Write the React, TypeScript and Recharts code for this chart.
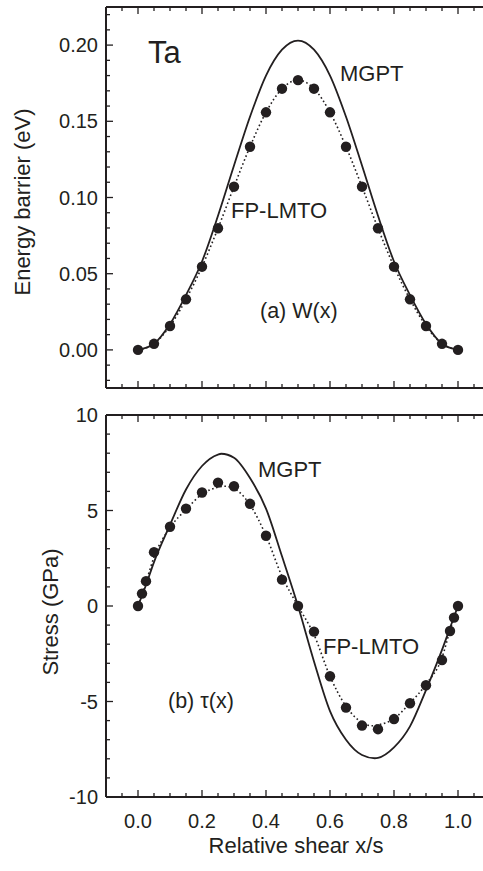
import React from 'react';
import { ComposedChart, Line, Scatter, XAxis, YAxis, ReferenceLine } from 'recharts';

// ---------- data ----------
const topLmtoX = [0, 0.05, 0.1, 0.15, 0.2, 0.25, 0.3, 0.35, 0.4, 0.45, 0.5, 0.55, 0.6, 0.65, 0.7, 0.75, 0.8, 0.85, 0.9, 0.95, 1.0];
const topLmtoW = [0, 0.004, 0.0157, 0.0332, 0.0546, 0.0798, 0.1071, 0.1333, 0.1559, 0.1714, 0.177, 0.1714, 0.1559, 0.1333, 0.1071, 0.0798, 0.0546, 0.0332, 0.0157, 0.004, 0];

const topMgptX = [0, 0.05, 0.1, 0.15, 0.2, 0.25, 0.3, 0.35, 0.4, 0.45, 0.5, 0.55, 0.6, 0.65, 0.7, 0.75, 0.8, 0.85, 0.9, 0.95, 1.0];
const topMgptW = [0, 0.004, 0.017, 0.036, 0.058, 0.088, 0.121, 0.153, 0.18, 0.197, 0.203, 0.197, 0.18, 0.153, 0.121, 0.088, 0.058, 0.036, 0.017, 0.004, 0];

const botLmtoX = [0, 0.0125, 0.025, 0.05, 0.1, 0.15, 0.2, 0.25, 0.3, 0.35, 0.4, 0.45, 0.5, 0.55, 0.6, 0.65, 0.7, 0.75, 0.8, 0.85, 0.9, 0.95, 0.975, 0.9875, 1.0];
const botLmtoTau = [0, 0.65, 1.3, 2.82, 4.15, 5.1, 5.94, 6.46, 6.27, 5.35, 3.68, 1.38, 0, -1.34, -3.68, -5.32, -6.26, -6.45, -5.92, -5.09, -4.15, -2.83, -1.31, -0.61, 0];

const botFitX = [0, 0.0125, 0.025, 0.05, 0.1, 0.15, 0.2, 0.25, 0.27, 0.3, 0.35, 0.4, 0.45, 0.5, 0.55, 0.6, 0.65, 0.7, 0.73, 0.75, 0.8, 0.85, 0.9, 0.95, 0.975, 0.9875, 1.0];
const botFitTau = [0, 0.62, 1.25, 2.55, 4.1, 5.05, 5.85, 6.22, 6.27, 6.15, 5.3, 3.68, 1.55, 0, -1.5, -3.68, -5.25, -6.1, -6.27, -6.22, -5.9, -5.08, -4.1, -2.7, -1.28, -0.62, 0];

const botMgptX = [0, 0.025, 0.05, 0.1, 0.15, 0.2, 0.25, 0.26, 0.3, 0.35, 0.4, 0.45, 0.5, 0.55, 0.6, 0.65, 0.7, 0.74, 0.75, 0.8, 0.85, 0.9, 0.95, 0.975, 1.0];
const botMgptTau = [0, 1.1, 2.3, 4.25, 6.1, 7.33, 7.93, 7.97, 7.76, 6.7, 5.1, 2.6, 0, -2.9, -5.5, -7.0, -7.8, -7.97, -7.95, -7.4, -6.3, -4.4, -2.3, -1.15, 0];

// ---------- ticks ----------
const xMajorTicks = [0, 0.2, 0.4, 0.6, 0.8, 1.0];
const xTickLabels = ['0.0', '0.2', '0.4', '0.6', '0.8', '1.0'];
const xMinorTicks = [-0.05, 0.05, 0.1, 0.15, 0.25, 0.3, 0.35, 0.45, 0.5, 0.55, 0.65, 0.7, 0.75, 0.85, 0.9, 0.95, 1.05];

const yTopMajorTicks = [0, 0.05, 0.1, 0.15, 0.2];
const yTopTickLabels = ['0.00', '0.05', '0.10', '0.15', '0.20'];
const yTopMinorTicks = [-0.02, -0.01, 0.01, 0.02, 0.03, 0.04, 0.06, 0.07, 0.08, 0.09, 0.11, 0.12, 0.13, 0.14, 0.16, 0.17, 0.18, 0.19, 0.21, 0.22];

const yBotMajorTicks = [-10, -5, 0, 5, 10];
const yBotTickLabels = ['-10', '-5', '0', '5', '10'];
const yBotMinorTicks = [-9, -8, -7, -6, -4, -3, -2, -1, 1, 2, 3, 4, 6, 7, 8, 9];

const xDomain = [-0.1, 1.1];
const yTopDomain = [-0.025, 0.225];
const yBotDomain = [-10, 10];

const toPts = (xs: number[], ys: number[]) => xs.map((x, i) => ({ x, y: ys[i] }));

const topLmto = toPts(topLmtoX, topLmtoW);
const topMgpt = toPts(topMgptX, topMgptW);
const botLmto = toPts(botLmtoX, botLmtoTau);
const botFit = toPts(botFitX, botFitTau);
const botMgpt = toPts(botMgptX, botMgptTau);

// ---------- style ----------
const FONT = '"Liberation Sans", Arial, Helvetica, sans-serif';
const INK = '#231f20';
const CHART_W = 500;
const MAJOR_LEN = 7;
const MINOR_LEN = 4;

const findIdx = (arr: number[], v: number) => arr.findIndex((t) => Math.abs(t - v) < 1e-6);

function makeXTick(plotH: number, showLabels: boolean) {
  return (props: any) => {
    const { x, y, payload } = props;
    const idx = findIdx(xMajorTicks, payload.value);
    const len = idx >= 0 ? MAJOR_LEN : MINOR_LEN;
    return (
      <g>
        <line x1={x} y1={y} x2={x} y2={y - len} stroke={INK} strokeWidth={1.3} />
        <line x1={x} y1={y - plotH} x2={x} y2={y - plotH + len} stroke={INK} strokeWidth={1.3} />
        {showLabels && idx >= 0 && (
          <text x={x} y={y + 31} textAnchor="middle" fontFamily={FONT} fontSize={20} fill={INK}>
            {xTickLabels[idx]}
          </text>
        )}
      </g>
    );
  };
}

function makeYTick(plotW: number, majors: number[], labels: string[]) {
  return (props: any) => {
    const { x, y, payload } = props;
    const idx = findIdx(majors, payload.value);
    const len = idx >= 0 ? MAJOR_LEN : MINOR_LEN;
    return (
      <g>
        <line x1={x} y1={y} x2={x + len} y2={y} stroke={INK} strokeWidth={1.3} />
        <line x1={x + plotW} y1={y} x2={x + plotW - len} y2={y} stroke={INK} strokeWidth={1.3} />
        {idx >= 0 && (
          <text x={x - 8} y={y + 7} textAnchor="end" fontFamily={FONT} fontSize={20} fill={INK}>
            {labels[idx]}
          </text>
        )}
      </g>
    );
  };
}

const dot = (p: any) => <circle cx={p.cx} cy={p.cy} r={5.2} fill={INK} />;

export default function App() {
  // top panel geometry
  const topH = 400;
  const topMargin = { top: 7, right: 10, bottom: 11, left: 0 };
  const yAxisW = 106;
  const topXAxisH = 1;
  const topPlotH = topH - topMargin.top - topMargin.bottom - topXAxisH;
  const plotW = CHART_W - yAxisW - topMargin.right;

  // bottom panel geometry
  const botH = 471;
  const botMargin = { top: 15, right: 10, bottom: 0, left: 0 };
  const botXAxisH = 74;
  const botPlotH = botH - botMargin.top - botMargin.bottom - botXAxisH;

  const xTicks = [...xMajorTicks, ...xMinorTicks].sort((a, b) => a - b);
  const yTopTicks = [...yTopMajorTicks, ...yTopMinorTicks].sort((a, b) => a - b);
  const yBotTicks = [...yBotMajorTicks, ...yBotMinorTicks].sort((a, b) => a - b);

  const axisLine = { stroke: INK, strokeWidth: 2 };
  const txt = { fontFamily: FONT, fill: INK } as const;

  return (
    <div style={{ position: 'absolute', left: 0, top: 0, width: 483, height: 871, overflow: 'hidden', background: '#fff' }}>
      <div style={{ position: 'absolute', left: 0, top: 0 }}>
        <ComposedChart width={CHART_W} height={topH} margin={topMargin}>
          <XAxis
            dataKey="x"
            type="number"
            domain={xDomain}
            allowDataOverflow
            ticks={xTicks}
            interval={0}
            height={topXAxisH}
            tickSize={0}
            tickMargin={0}
            tickLine={false}
            axisLine={axisLine}
            tick={makeXTick(topPlotH, false)}
          />
          <YAxis
            dataKey="y"
            type="number"
            domain={yTopDomain}
            allowDataOverflow
            ticks={yTopTicks}
            interval={0}
            width={yAxisW}
            tickSize={0}
            tickMargin={0}
            tickLine={false}
            axisLine={axisLine}
            tick={makeYTick(plotW, yTopMajorTicks, yTopTickLabels)}
          />
          <ReferenceLine y={yTopDomain[1]} stroke={INK} strokeWidth={2} />
          <ReferenceLine x={xDomain[1]} stroke={INK} strokeWidth={2} />
          <Line data={topMgpt} dataKey="y" type="monotone" stroke={INK} strokeWidth={1.8} dot={false} isAnimationActive={false} />
          <Line data={topLmto} dataKey="y" type="monotone" stroke={INK} strokeWidth={1.6} strokeDasharray="1.6 2.6" dot={false} isAnimationActive={false} />
          <Scatter data={topLmto} dataKey="y" shape={dot} isAnimationActive={false} />
        </ComposedChart>
      </div>
      <div style={{ position: 'absolute', left: 0, top: 400 }}>
        <ComposedChart width={CHART_W} height={botH} margin={botMargin}>
          <XAxis
            dataKey="x"
            type="number"
            domain={xDomain}
            allowDataOverflow
            ticks={xTicks}
            interval={0}
            height={botXAxisH}
            tickSize={0}
            tickMargin={0}
            tickLine={false}
            axisLine={axisLine}
            tick={makeXTick(botPlotH, true)}
          />
          <YAxis
            dataKey="y"
            type="number"
            domain={yBotDomain}
            allowDataOverflow
            ticks={yBotTicks}
            interval={0}
            width={yAxisW}
            tickSize={0}
            tickMargin={0}
            tickLine={false}
            axisLine={axisLine}
            tick={makeYTick(plotW, yBotMajorTicks, yBotTickLabels)}
          />
          <ReferenceLine y={yBotDomain[1]} stroke={INK} strokeWidth={2} />
          <ReferenceLine x={xDomain[1]} stroke={INK} strokeWidth={2} />
          <Line data={botMgpt} dataKey="y" type="monotone" stroke={INK} strokeWidth={1.8} dot={false} isAnimationActive={false} />
          <Line data={botFit} dataKey="y" type="monotone" stroke={INK} strokeWidth={1.6} strokeDasharray="1.6 2.6" dot={false} isAnimationActive={false} />
          <Scatter data={botLmto} dataKey="y" shape={dot} isAnimationActive={false} />
        </ComposedChart>
      </div>
      <svg width={483} height={871} style={{ position: 'absolute', left: 0, top: 0, pointerEvents: 'none' }}>
        <text transform="translate(30,202) rotate(-90)" textAnchor="middle" fontSize={22} {...txt}>Energy barrier (eV)</text>
        <text transform="translate(58,612) rotate(-90)" textAnchor="middle" fontSize={22} {...txt}>Stress (GPa)</text>
        <text x={296} y={853} textAnchor="middle" fontSize={22} {...txt}>Relative shear x/s</text>
        <text x={148} y={63} fontSize={31} {...txt}>Ta</text>
        <text x={340} y={81} fontSize={22} {...txt}>MGPT</text>
        <text x={231} y={218} fontSize={22} {...txt}>FP-LMTO</text>
        <text x={260} y={318} fontSize={21.5} {...txt}>(a) W(x)</text>
        <text x={258} y={477} fontSize={22} {...txt}>MGPT</text>
        <text x={323} y={654} fontSize={22} {...txt}>FP-LMTO</text>
        <text x={168} y={708} fontSize={21.5} {...txt}>(b) τ(x)</text>
      </svg>
    </div>
  );
}
